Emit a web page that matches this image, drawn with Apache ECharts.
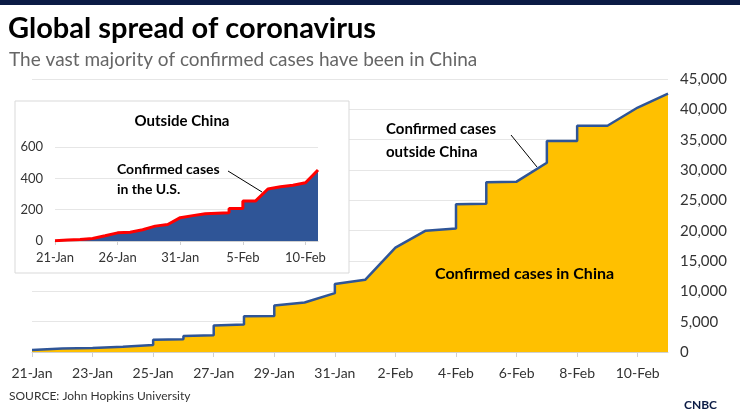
<!DOCTYPE html>
<html><head><meta charset="utf-8">
<script src="https://cdn.jsdelivr.net/npm/echarts@6/dist/echarts.min.js"></script>
<style>html,body{margin:0;padding:0;background:#fff}#c{width:740px;height:416px}</style>
</head><body><div id="c"></div>
<script>
// day index 0 = 21-Jan
const dayLabels = ['21-Jan','22-Jan','23-Jan','24-Jan','25-Jan','26-Jan','27-Jan','28-Jan','29-Jan','30-Jan','31-Jan','1-Feb','2-Feb','3-Feb','4-Feb','5-Feb','6-Feb','7-Feb','8-Feb','9-Feb','10-Feb','11-Feb'];
// main chart: [day, total confirmed cases] (vertical steps share a day)
const totalDays   = [0,1,2,3,4,4,5,5,6,6,7,7,8,8,9,10,10,11,12,13,14,14,15,15,16,17,17,18,18,19,20,21];
const totalCases  = [330,580,650,850,1150,2000,2100,2650,2750,4350,4550,5900,5950,7650,8150,9700,11200,11900,17200,20000,20350,24350,24450,28000,28080,31200,34800,34800,37300,37300,40300,42600];
// inset: outside China
const outDays  = [0,1,2,3,3,4,5,6,7,7,8,9,10,11,12,13.9,13.9,15,15,16,17,18,18,19,20,21];
const outCases = [2,6,10,16,26,33,52,56,72,84,95,105,149,162,174,181,208,208,255,255,332,346,352,356,372,453];
const mainTicks = [0,5000,10000,15000,20000,25000,30000,35000,40000,45000];

const F = 'Lato, "Liberation Sans", sans-serif';
const chart = echarts.init(document.getElementById('c'));
chart.setOption({
  animation:false,
  grid:[
    {left:32,right:72,top:79,height:273},
    {left:55,width:263,top:147,height:94}
  ],
  xAxis:[
    {gridIndex:0,type:'value',min:0,max:21,interval:2,
     axisLine:{lineStyle:{color:'#d0d0d0'}},axisTick:{show:true,length:5,lineStyle:{color:'#d0d0d0'}},
     splitLine:{show:false},
     axisLabel:{color:'#333',fontFamily:F,fontSize:14,margin:14,showMaxLabel:false,formatter:v=>dayLabels[v]||''}},
    {gridIndex:1,type:'value',min:0,max:21,interval:5,z:10,
     axisLine:{lineStyle:{color:'#d0d0d0'}},axisTick:{show:true,length:4,lineStyle:{color:'#d0d0d0'}},
     splitLine:{show:false},
     axisLabel:{color:'#333',fontFamily:F,fontSize:13,margin:10,showMaxLabel:false,formatter:v=>dayLabels[v]||''}}
  ],
  yAxis:[
    {gridIndex:0,type:'value',position:'right',min:0,max:45000,interval:5000,
     axisLine:{show:false},axisTick:{show:false},
     splitLine:{lineStyle:{color:'#e6e6e6'}},
     axisLabel:{color:'#333',fontFamily:F,fontSize:15,margin:12,formatter:v=>v.toLocaleString('en-US')}},
    {gridIndex:1,type:'value',min:0,max:600,interval:200,z:10,
     axisLine:{show:false},axisTick:{show:false},
     splitLine:{lineStyle:{color:'#e6e6e6'}},
     axisLabel:{color:'#333',fontFamily:F,fontSize:13,margin:12}}
  ],
  series:[
    {type:'line',xAxisIndex:0,yAxisIndex:0,symbol:'none',z:2,
     data:totalDays.map((d,i)=>[d,totalCases[i]]),
     lineStyle:{color:'#2f5597',width:2.5},areaStyle:{color:'#ffc000',opacity:1}},
    {type:'line',xAxisIndex:1,yAxisIndex:1,symbol:'none',z:20,
     data:outDays.map((d,i)=>[d,outCases[i]]),
     lineStyle:{color:'#ff0000',width:3},areaStyle:{color:'#2f5597',opacity:1}}
  ],
  graphic:[
    {type:'rect',shape:{x:0,y:0,width:740,height:5},style:{fill:'#0b1b45'}},
    {type:'text',left:8,top:14,style:{text:'Global spread of coronavirus',font:'bold 29px '+F,fill:'#000'}},
    {type:'text',left:9,top:50,style:{text:'The vast majority of confirmed cases have been in China',font:'19px '+F,fill:'#666'}},
    {type:'rect',z:5,shape:{x:15,y:101,width:334,height:172},style:{fill:'#fff',stroke:'#d9d9d9',lineWidth:1}},
    {type:'text',z:30,x:182,y:114,style:{text:'Outside China',font:'bold 15px '+F,fill:'#000',align:'center'}},
    {type:'text',z:30,x:117,y:159,style:{text:'Confirmed cases\nin the U.S.',font:'bold 14px '+F,lineHeight:20,fill:'#000'}},
    {type:'line',z:30,shape:{x1:228,y1:171,x2:262,y2:192},style:{stroke:'#000',lineWidth:1}},
    {type:'text',z:30,x:386,y:118,style:{text:'Confirmed cases\noutside China',font:'bold 15px '+F,lineHeight:23,fill:'#000'}},
    {type:'line',z:30,shape:{x1:511,y1:135,x2:537,y2:167},style:{stroke:'#000',lineWidth:1}},
    {type:'text',z:30,x:435,y:266,style:{text:'Confirmed cases in China',font:'bold 16px '+F,fill:'#000'}},
    {type:'text',left:9,top:390,style:{text:'SOURCE: John Hopkins University',font:'12px '+F,fill:'#333'}},
    {type:'text',left:684,top:399,style:{text:'CNBC',font:'bold 12px '+F,fill:'#0b1b45'}}
  ]
});
</script></body></html>
